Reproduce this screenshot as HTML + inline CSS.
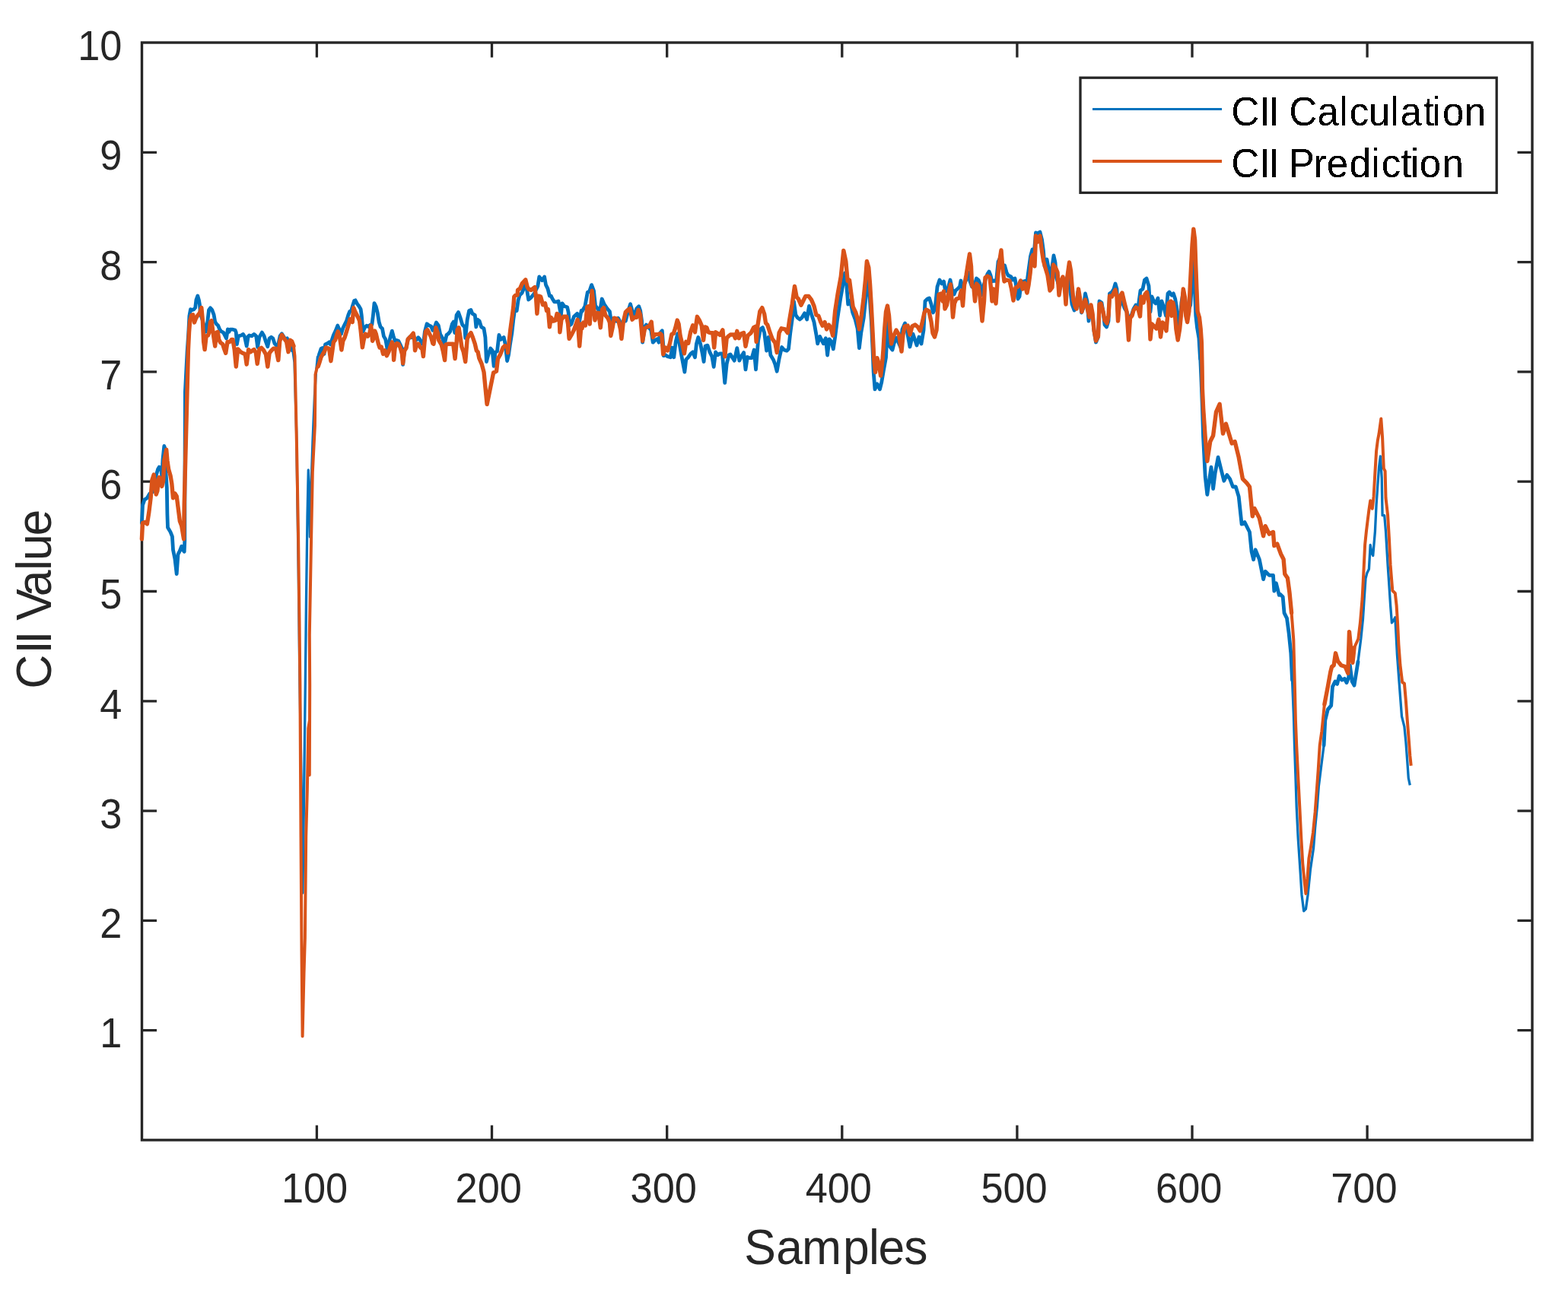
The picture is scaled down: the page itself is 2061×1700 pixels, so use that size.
<!DOCTYPE html>
<html><head><meta charset="utf-8"><title>CII Value vs Samples</title>
<style>
html,body{margin:0;padding:0;background:#fff;overflow:hidden;}
svg{display:block;}
.t{font-family:"Liberation Sans",Arial,sans-serif;font-size:52.3px;fill:#262626;}
.l{font-family:"Liberation Sans",Arial,sans-serif;font-size:62.4px;fill:#262626;}
.g{font-family:"Liberation Sans",Arial,sans-serif;font-size:51px;fill:#000;}
</style></head><body>
<svg width="2061" height="1700" viewBox="0 0 2061 1700">
<defs><filter id="crisp" x="0" y="0" width="1" height="1"><feComponentTransfer><feFuncA type="discrete" tableValues="0 1"/></feComponentTransfer></filter></defs>
<rect width="2061" height="1700" fill="#fff"/>
<rect x="186.5" y="56.0" width="1827.5" height="1442.9" fill="none" stroke="#262626" stroke-width="3.4"/>
<text transform="translate(160.4,1377.4) scale(1,1.06)" text-anchor="end" class="t">1</text>
<text transform="translate(160.4,1233.1) scale(1,1.06)" text-anchor="end" class="t">2</text>
<text transform="translate(160.4,1088.9) scale(1,1.06)" text-anchor="end" class="t">3</text>
<text transform="translate(160.4,944.6) scale(1,1.06)" text-anchor="end" class="t">4</text>
<text transform="translate(160.4,800.3) scale(1,1.06)" text-anchor="end" class="t">5</text>
<text transform="translate(160.4,656.0) scale(1,1.06)" text-anchor="end" class="t">6</text>
<text transform="translate(160.4,511.7) scale(1,1.06)" text-anchor="end" class="t">7</text>
<text transform="translate(160.4,367.5) scale(1,1.06)" text-anchor="end" class="t">8</text>
<text transform="translate(160.4,223.2) scale(1,1.06)" text-anchor="end" class="t">9</text>
<text transform="translate(160.4,78.9) scale(1,1.06)" text-anchor="end" class="t">10</text>
<text transform="translate(413.5,1580.8) scale(1,1.06)" text-anchor="middle" class="t">100</text>
<text transform="translate(642.2,1580.8) scale(1,1.06)" text-anchor="middle" class="t">200</text>
<text transform="translate(872.2,1580.8) scale(1,1.06)" text-anchor="middle" class="t">300</text>
<text transform="translate(1102.3,1580.8) scale(1,1.06)" text-anchor="middle" class="t">400</text>
<text transform="translate(1333.0,1580.8) scale(1,1.06)" text-anchor="middle" class="t">500</text>
<text transform="translate(1562.7,1580.8) scale(1,1.06)" text-anchor="middle" class="t">600</text>
<text transform="translate(1792.9,1580.8) scale(1,1.06)" text-anchor="middle" class="t">700</text>
<path d="M186.5,1354.6h19.5M2014.0,1354.6h-19.5M186.5,1210.3h19.5M2014.0,1210.3h-19.5M186.5,1066.1h19.5M2014.0,1066.1h-19.5M186.5,921.8h19.5M2014.0,921.8h-19.5M186.5,777.5h19.5M2014.0,777.5h-19.5M186.5,633.2h19.5M2014.0,633.2h-19.5M186.5,488.9h19.5M2014.0,488.9h-19.5M186.5,344.7h19.5M2014.0,344.7h-19.5M186.5,200.4h19.5M2014.0,200.4h-19.5M416.4,1498.9v-19.5M416.4,56.0v19.5M646.5,1498.9v-19.5M646.5,56.0v19.5M876.7,1498.9v-19.5M876.7,56.0v19.5M1106.8,1498.9v-19.5M1106.8,56.0v19.5M1336.9,1498.9v-19.5M1336.9,56.0v19.5M1567.0,1498.9v-19.5M1567.0,56.0v19.5M1797.1,1498.9v-19.5M1797.1,56.0v19.5" stroke="#262626" stroke-width="3.3" fill="none"/>
<text transform="translate(0,1662.4) scale(1,1.03)" x="978.3 1020.2 1054.0 1107.9 1141.9 1154.4 1188.3" y="0" class="l">Samples</text>
<text transform="translate(67.0,902.5) rotate(-90) scale(1,1.04)" x="-3.2 42.9 55.8 73.2 86.7 118.2 152.5 165.4 197.9" y="0" class="l">CII Value</text>
<path d="M186.4,687.6 L187.5,664.1 L189.9,657.1 L193.4,654.7 L196.9,648.8 L201.1,646.5 L202.8,635.9 L205.2,625.3 L207.5,617.1 L209.3,614.1 L211.6,615.9 L212.8,626.5 L214.0,604.1 L215.8,586.5 L217.5,591.2 L218.1,622.9 L219.3,640.6 L219.9,675.9 L220.5,693.5 L224.0,699.4 L226.4,705.3 L227.5,722.9 L229.9,734.7 L232.2,754.7 L234.0,728.8 L236.4,724.1 L238.7,718.2 L240.5,722.9 L242.2,725.3 L242.8,711.2 L242.9,652.4 L243.1,605.3 L243.4,515.3 L246.0,463.5 L247.8,437.1 L248.9,415.4 L250.5,406.8 L252.8,407.6 L254.8,406.8 L256.7,404.5 L257.9,394.4 L259.8,389.0 L261.4,394.4 L262.5,400.6 L263.3,412.3 L266.4,421.6 L270.3,436.3 L272.6,424.7 L274.5,407.6 L276.5,404.9 L278.8,407.6 L281.1,413.8 L282.7,423.1 L284.6,426.2 L286.6,427.8 L288.5,432.5 L290.5,435.6 L293.6,437.1 L295.9,441.8 L297.5,444.9 L299.4,432.8 L300.9,436.3 L302.5,433.2 L306.0,433.2 L309.1,434.0 L310.3,437.1 L311.4,452.6 L313.4,441.8 L316.9,441.0 L319.6,439.4 L321.5,442.5 L324.2,455.0 L326.2,442.5 L327.7,441.0 L330.8,441.8 L333.9,439.4 L336.7,441.8 L338.6,456.5 L340.9,443.3 L344.4,437.1 L347.1,441.8 L349.5,449.5 L351.8,455.7 L354.1,444.9 L356.5,443.3 L358.8,444.9 L361.1,451.9 L364.2,455.0 L365.8,452.6 L368.1,441.8 L370.4,438.7 L372.8,442.5 L375.1,446.4 L377.4,444.9 L379.0,449.5 L382.1,457.3 L383.6,460.4 L384.5,458.3 L387.0,476.5 L389.6,567.0 L392.2,748.0 L394.0,900.0 L396.5,1050.0 L397.9,1174.0 L399.5,1050.0 L401.3,900.0 L402.5,789.0 L404.0,680.0 L405.3,618.0 L406.5,650.0 L407.5,706.0 L409.0,640.0 L411.0,580.0 L413.5,520.0 L415.5,488.7 L417.4,469.3 L419.4,466.2 L422.1,458.4 L423.6,457.6 L426.0,465.4 L427.5,453.0 L430.6,451.4 L432.6,449.9 L434.5,453.0 L436.1,447.5 L438.4,440.6 L440.7,435.9 L443.8,428.1 L446.2,433.6 L448.5,439.0 L450.8,431.2 L453.1,426.6 L455.5,421.9 L457.8,414.2 L459.7,409.5 L461.7,408.7 L463.6,401.7 L465.6,395.5 L467.1,394.8 L469.5,399.4 L471.8,402.5 L474.1,406.4 L475.3,414.9 L476.4,428.1 L477.2,435.9 L479.5,430.5 L481.9,428.1 L484.6,429.7 L486.5,427.4 L488.9,426.6 L490.4,414.9 L492.0,398.6 L494.3,403.3 L496.2,411.1 L498.2,423.5 L500.1,429.7 L502.5,432.0 L504.4,442.1 L506.7,446.0 L508.3,454.5 L509.0,459.2 L511.4,449.9 L513.3,442.1 L515.3,435.1 L517.2,442.1 L519.1,448.3 L521.5,447.5 L523.8,448.3 L526.1,453.0 L528.5,458.4 L529.6,479.4 L531.6,459.2 L533.9,457.6 L536.2,446.0 L538.6,442.9 L540.9,443.7 L543.2,439.0 L545.2,447.5 L547.5,446.8 L549.8,443.7 L551.8,446.0 L554.1,451.4 L556.4,453.0 L558.4,435.9 L561.1,425.8 L564.2,428.1 L566.5,428.9 L568.8,434.3 L570.0,433.8 L573.4,424.0 L576.3,427.9 L578.7,439.6 L581.6,444.4 L584.1,453.2 L587.0,440.5 L589.4,438.6 L591.8,435.7 L594.3,426.0 L596.2,423.1 L597.7,437.6 L600.1,414.3 L602.5,410.5 L604.9,417.3 L607.8,427.0 L610.8,429.9 L611.7,444.4 L614.2,420.2 L616.6,408.5 L619.0,407.5 L620.9,412.4 L624.3,414.3 L625.8,429.9 L627.7,420.2 L630.2,422.1 L632.6,429.9 L636.0,431.8 L637.9,443.5 L639.4,475.5 L641.8,466.7 L644.7,458.0 L647.1,460.9 L649.1,481.3 L651.0,462.9 L653.5,461.9 L655.9,440.5 L658.3,446.4 L662.2,443.5 L664.1,452.2 L666.6,474.5 L668.5,466.7 L670.4,453.2 L672.9,437.6 L674.8,420.2 L676.7,406.6 L679.2,408.5 L681.1,394.9 L683.1,388.1 L686.0,385.2 L688.9,378.4 L690.8,371.6 L692.3,379.4 L694.7,394.0 L698.1,391.1 L702.0,386.2 L703.9,382.3 L706.8,376.5 L708.8,363.9 L712.6,368.7 L715.6,363.9 L717.5,374.6 L719.9,379.4 L722.4,389.1 L724.3,389.1 L726.2,393.0 L728.7,396.9 L731.1,396.9 L734.0,395.9 L735.9,406.6 L737.4,414.3 L738.9,398.8 L741.8,402.7 L745.6,403.7 L747.1,410.5 L748.6,427.9 L751.0,426.0 L754.4,416.3 L758.7,412.4 L761.7,422.1 L764.1,408.5 L765.0,409.5 L768.9,402.7 L772.3,384.3 L774.7,383.3 L777.6,374.6 L780.5,382.3 L782.5,401.7 L785.4,405.6 L788.3,410.5 L791.2,393.0 L794.1,399.8 L798.0,405.6 L801.4,409.5 L803.8,426.0 L806.7,419.2 L810.1,422.1 L812.5,418.2 L814.5,422.1 L816.4,428.9 L819.3,422.1 L822.3,422.1 L825.2,410.5 L828.6,399.8 L831.0,408.5 L833.9,414.3 L836.8,405.6 L839.7,402.7 L841.7,408.5 L843.6,422.1 L844.6,450.2 L847.5,429.9 L849.4,427.0 L852.3,429.9 L855.7,433.8 L858.2,450.2 L861.1,447.3 L864.5,445.4 L865.9,450.2 L867.9,437.6 L870.3,434.7 L871.7,453.2 L872.2,467.7 L874.7,466.7 L877.6,468.7 L881.4,469.7 L883.4,457.0 L885.8,469.7 L888.2,449.3 L890.7,438.6 L893.1,452.2 L896.0,468.7 L899.9,489.1 L901.8,472.6 L904.7,469.7 L908.1,464.8 L910.6,462.9 L913.5,469.7 L915.4,452.2 L917.8,443.5 L920.7,452.2 L923.2,464.8 L925.1,475.5 L927.1,455.1 L930.0,454.1 L932.9,462.9 L935.8,468.7 L938.2,482.3 L940.6,462.9 L943.6,466.7 L946.5,464.8 L949.4,464.8 L952.7,503.4 L955.2,478.4 L958.1,466.7 L960.0,465.9 L965.3,474.1 L968.8,457.6 L971.8,474.1 L974.7,468.2 L977.6,463.5 L980.0,485.9 L982.4,469.4 L985.3,470.6 L988.2,470.6 L991.2,460.0 L993.5,485.9 L996.5,448.2 L999.4,432.9 L1002.4,430.6 L1004.7,437.6 L1007.6,461.2 L1010.0,443.5 L1012.9,467.1 L1016.5,472.9 L1018.8,478.8 L1021.2,488.2 L1024.1,471.8 L1027.6,456.5 L1030.6,460.0 L1034.1,461.2 L1036.5,458.8 L1038.8,437.6 L1041.2,420.0 L1043.5,396.5 L1045.9,414.1 L1048.2,417.6 L1051.2,420.0 L1054.1,417.6 L1057.6,411.8 L1060.6,420.0 L1063.5,402.4 L1066.5,412.9 L1070.0,423.5 L1072.9,440.0 L1074.7,451.8 L1077.6,442.4 L1082.4,451.8 L1085.3,444.7 L1087.6,467.1 L1090.0,445.9 L1092.9,449.4 L1095.3,458.8 L1097.6,443.5 L1100.6,420.0 L1104.7,392.9 L1108.2,372.9 L1110.6,358.8 L1112.9,376.5 L1114.7,400.0 L1117.6,395.3 L1120.6,410.6 L1124.1,420.0 L1127.1,431.8 L1129.4,457.6 L1131.8,437.6 L1135.3,417.6 L1137.6,395.3 L1139.4,363.5 L1141.8,378.8 L1143.5,396.5 L1145.3,422.4 L1147.1,461.2 L1148.2,489.4 L1150.0,511.8 L1152.9,504.7 L1156.5,511.8 L1158.8,502.4 L1161.4,487.1 L1164.5,470.0 L1165.5,450.0 L1166.5,420.0 L1168.0,445.0 L1170.0,456.0 L1173.0,460.0 L1175.0,452.0 L1178.0,444.0 L1180.0,448.0 L1183.5,456.0 L1186.0,433.0 L1189.5,425.0 L1192.0,434.0 L1196.0,456.0 L1200.0,439.0 L1205.0,454.0 L1208.0,443.0 L1211.0,452.0 L1214.0,434.0 L1216.0,396.0 L1219.0,393.0 L1221.5,392.0 L1224.0,400.0 L1226.5,411.0 L1229.0,406.0 L1232.0,377.0 L1235.0,368.0 L1238.0,373.0 L1240.5,370.0 L1242.5,382.0 L1245.0,383.0 L1249.0,368.0 L1251.5,380.0 L1254.0,387.0 L1256.0,382.0 L1259.5,379.0 L1261.5,377.0 L1263.0,369.0 L1265.0,378.0 L1268.0,372.0 L1271.0,366.0 L1273.0,358.0 L1275.0,370.0 L1277.5,377.0 L1281.0,375.0 L1283.5,366.0 L1286.0,368.0 L1288.0,373.0 L1290.0,388.0 L1292.5,377.0 L1295.0,368.0 L1298.0,360.0 L1300.0,357.0 L1302.0,362.0 L1304.0,370.0 L1307.0,369.0 L1309.5,370.0 L1312.0,344.0 L1314.0,340.0 L1317.0,350.0 L1320.5,349.0 L1323.0,358.0 L1325.0,362.0 L1329.0,364.0 L1331.0,368.0 L1334.0,366.0 L1336.0,378.0 L1338.0,393.0 L1340.0,390.0 L1342.0,373.0 L1345.0,370.0 L1349.0,369.0 L1350.0,370.0 L1352.0,355.0 L1354.5,337.0 L1357.0,328.0 L1359.0,335.0 L1361.5,306.0 L1364.0,307.0 L1367.0,305.0 L1369.5,315.0 L1371.5,330.0 L1373.0,350.0 L1376.0,341.0 L1378.5,354.0 L1381.0,368.0 L1383.0,350.0 L1385.0,336.0 L1387.0,345.0 L1388.5,365.0 L1391.0,373.0 L1394.0,369.0 L1397.0,366.0 L1399.5,376.0 L1402.0,367.0 L1405.0,358.0 L1406.5,380.0 L1409.0,400.0 L1412.0,408.0 L1414.5,402.0 L1417.0,383.0 L1419.5,395.0 L1421.5,411.0 L1424.0,405.0 L1426.5,386.0 L1429.0,396.0 L1431.0,422.0 L1433.5,404.0 L1436.0,414.0 L1438.0,435.0 L1440.5,450.0 L1443.5,443.0 L1445.0,396.0 L1448.0,398.0 L1450.0,410.0 L1452.0,427.0 L1454.5,430.0 L1457.0,422.0 L1458.5,386.0 L1461.5,384.0 L1464.0,380.0 L1466.0,373.0 L1468.0,380.0 L1469.5,414.0 L1472.0,398.0 L1475.0,397.0 L1478.0,405.0 L1481.0,410.0 L1484.0,420.0 L1487.0,415.0 L1490.0,406.0 L1493.0,401.0 L1496.0,404.0 L1499.0,382.0 L1502.0,380.0 L1504.5,368.0 L1507.0,366.0 L1510.0,376.0 L1512.0,410.0 L1514.0,390.0 L1516.5,396.0 L1519.0,399.0 L1522.0,392.0 L1524.5,415.0 L1527.0,396.0 L1530.0,405.0 L1532.5,415.0 L1535.0,386.0 L1537.0,384.0 L1540.0,388.2 L1542.4,385.9 L1544.7,392.9 L1546.5,403.5 L1548.8,427.1 L1551.2,418.8 L1552.9,397.6 L1555.3,383.5 L1557.6,392.9 L1560.0,409.4 L1562.4,407.1 L1564.7,401.2 L1566.5,374.1 L1568.2,336.5 L1569.4,362.4 L1570.6,385.9 L1571.8,415.3 L1573.5,430.6 L1575.9,444.7 L1577.6,472.9 L1577.8,471.8 L1579.1,502.8 L1580.4,536.5 L1581.6,575.3 L1584.2,627.0 L1586.8,650.3 L1589.4,632.2 L1592.0,614.1 L1594.6,642.6 L1597.2,621.9 L1601.1,601.2 L1604.9,616.7 L1608.8,632.2 L1612.7,624.5 L1616.6,629.6 L1620.5,640.0 L1624.3,640.0 L1628.2,652.9 L1632.1,689.2 L1636.0,686.6 L1642.5,699.5 L1645.1,725.4 L1647.6,735.7 L1650.2,722.8 L1655.4,735.7 L1660.6,761.6 L1663.2,751.3 L1668.3,756.4 L1673.5,756.4 L1674.8,777.1 L1677.4,766.8 L1681.3,782.3 L1682.6,781.2 L1686.2,784.7 L1688.0,805.9 L1691.5,812.9 L1694.1,832.4 L1696.8,858.8 L1698.5,894.1 L1700.3,938.2 L1701.5,980.0 L1702.9,1020.6 L1704.2,1061.2 L1706.2,1101.8 L1708.9,1142.4 L1711.0,1176.2 L1713.7,1197.9 L1716.4,1195.2 L1719.1,1176.2 L1722.5,1142.4 L1726.5,1115.3 L1728.6,1088.3 L1731.3,1061.2 L1733.3,1034.1 L1736.7,1007.1 L1740.1,980.0 L1741.8,947.0 L1745.3,932.9 L1749.7,927.6 L1751.5,902.9 L1755.0,895.9 L1757.6,899.4 L1760.3,888.8 L1763.8,894.1 L1767.3,892.3 L1770.0,897.6 L1772.6,890.6 L1774.4,874.7 L1777.1,895.9 L1780.0,901.2 L1785.0,870.0 L1788.8,840.0 L1791.5,813.5 L1793.2,787.0 L1795.0,760.6 L1796.8,753.5 L1799.4,748.2 L1801.2,716.5 L1802.9,727.0 L1804.7,730.6 L1807.4,698.8 L1809.1,663.5 L1810.9,637.0 L1812.6,614.1 L1814.4,600.0 L1816.2,628.2 L1817.1,677.6 L1819.7,677.6 L1821.5,698.8 L1824.1,742.9 L1825.9,769.4 L1827.6,795.9 L1829.4,818.8 L1832.1,815.3 L1833.8,811.8 L1835.0,833.5 L1836.4,860.6 L1838.4,887.7 L1840.4,914.7 L1842.5,941.8 L1845.9,955.3 L1847.9,975.6 L1849.9,1002.7 L1851.3,1023.0 L1853.3,1032.4" fill="none" stroke="#0072BD" stroke-width="3.3" stroke-linejoin="round"/>
<path d="M186.4,687.6 L187.5,664.1 L189.9,657.1 L193.4,654.7 L196.9,648.8 L201.1,646.5 L202.8,635.9 L205.2,625.3 L207.5,617.1 L209.3,614.1 L211.6,615.9 L212.8,626.5 L214.0,604.1 L215.8,586.5 L217.5,591.2 L218.1,622.9 L219.3,640.6 L219.9,675.9 L220.5,693.5 L224.0,699.4 L226.4,705.3 L227.5,722.9 L229.9,734.7 L232.2,754.7 L234.0,728.8 L236.4,724.1 L238.7,718.2 L240.5,722.9 L242.2,725.3 L242.8,711.2 L242.9,652.4 L243.1,605.3 L243.4,515.3 L246.0,463.5 L247.8,437.1 L248.9,415.4 L250.5,406.8 L252.8,407.6 L254.8,406.8 L256.7,404.5 L257.9,394.4 L259.8,389.0 L261.4,394.4 L262.5,400.6 L263.3,412.3 L266.4,421.6 L270.3,436.3 L272.6,424.7 L274.5,407.6 L276.5,404.9 L278.8,407.6 L281.1,413.8 L282.7,423.1 L284.6,426.2 L286.6,427.8 L288.5,432.5 L290.5,435.6 L293.6,437.1 L295.9,441.8 L297.5,444.9 L299.4,432.8 L300.9,436.3 L302.5,433.2 L306.0,433.2 L309.1,434.0 L310.3,437.1 L311.4,452.6 L313.4,441.8 L316.9,441.0 L319.6,439.4 L321.5,442.5 L324.2,455.0 L326.2,442.5 L327.7,441.0 L330.8,441.8 L333.9,439.4 L336.7,441.8 L338.6,456.5 L340.9,443.3 L344.4,437.1 L347.1,441.8 L349.5,449.5 L351.8,455.7 L354.1,444.9 L356.5,443.3 L358.8,444.9 L361.1,451.9 L364.2,455.0 L365.8,452.6 L368.1,441.8 L370.4,438.7 L372.8,442.5 L375.1,446.4 L377.4,444.9 L379.0,449.5 L382.1,457.3 L383.6,460.4 L384.5,458.3M419.4,466.2 L422.1,458.4 L423.6,457.6 L426.0,465.4 L427.5,453.0 L430.6,451.4 L432.6,449.9 L434.5,453.0 L436.1,447.5 L438.4,440.6 L440.7,435.9 L443.8,428.1 L446.2,433.6 L448.5,439.0 L450.8,431.2 L453.1,426.6 L455.5,421.9 L457.8,414.2 L459.7,409.5 L461.7,408.7 L463.6,401.7 L465.6,395.5 L467.1,394.8 L469.5,399.4 L471.8,402.5 L474.1,406.4 L475.3,414.9 L476.4,428.1 L477.2,435.9 L479.5,430.5 L481.9,428.1 L484.6,429.7 L486.5,427.4 L488.9,426.6 L490.4,414.9 L492.0,398.6 L494.3,403.3 L496.2,411.1 L498.2,423.5 L500.1,429.7 L502.5,432.0 L504.4,442.1 L506.7,446.0 L508.3,454.5 L509.0,459.2 L511.4,449.9 L513.3,442.1 L515.3,435.1 L517.2,442.1 L519.1,448.3 L521.5,447.5 L523.8,448.3 L526.1,453.0 L528.5,458.4 L529.6,479.4 L531.6,459.2 L533.9,457.6 L536.2,446.0 L538.6,442.9 L540.9,443.7 L543.2,439.0 L545.2,447.5 L547.5,446.8 L549.8,443.7 L551.8,446.0 L554.1,451.4 L556.4,453.0 L558.4,435.9 L561.1,425.8 L564.2,428.1 L566.5,428.9 L568.8,434.3 L570.0,433.8 L573.4,424.0 L576.3,427.9 L578.7,439.6 L581.6,444.4 L584.1,453.2 L587.0,440.5 L589.4,438.6 L591.8,435.7 L594.3,426.0 L596.2,423.1 L597.7,437.6 L600.1,414.3 L602.5,410.5 L604.9,417.3 L607.8,427.0 L610.8,429.9 L611.7,444.4 L614.2,420.2 L616.6,408.5 L619.0,407.5 L620.9,412.4 L624.3,414.3 L625.8,429.9 L627.7,420.2 L630.2,422.1 L632.6,429.9 L636.0,431.8 L637.9,443.5 L639.4,475.5 L641.8,466.7 L644.7,458.0 L647.1,460.9 L649.1,481.3 L651.0,462.9 L653.5,461.9 L655.9,440.5 L658.3,446.4 L662.2,443.5 L664.1,452.2 L666.6,474.5 L668.5,466.7 L670.4,453.2 L672.9,437.6 L674.8,420.2 L676.7,406.6 L679.2,408.5 L681.1,394.9 L683.1,388.1 L686.0,385.2 L688.9,378.4 L690.8,371.6 L692.3,379.4 L694.7,394.0 L698.1,391.1 L702.0,386.2 L703.9,382.3 L706.8,376.5 L708.8,363.9 L712.6,368.7 L715.6,363.9 L717.5,374.6 L719.9,379.4 L722.4,389.1 L724.3,389.1 L726.2,393.0 L728.7,396.9 L731.1,396.9 L734.0,395.9 L735.9,406.6 L737.4,414.3 L738.9,398.8 L741.8,402.7 L745.6,403.7 L747.1,410.5 L748.6,427.9 L751.0,426.0 L754.4,416.3 L758.7,412.4 L761.7,422.1 L764.1,408.5 L765.0,409.5 L768.9,402.7 L772.3,384.3 L774.7,383.3 L777.6,374.6 L780.5,382.3 L782.5,401.7 L785.4,405.6 L788.3,410.5 L791.2,393.0 L794.1,399.8 L798.0,405.6 L801.4,409.5 L803.8,426.0 L806.7,419.2 L810.1,422.1 L812.5,418.2 L814.5,422.1 L816.4,428.9 L819.3,422.1 L822.3,422.1 L825.2,410.5 L828.6,399.8 L831.0,408.5 L833.9,414.3 L836.8,405.6 L839.7,402.7 L841.7,408.5 L843.6,422.1 L844.6,450.2 L847.5,429.9 L849.4,427.0 L852.3,429.9 L855.7,433.8 L858.2,450.2 L861.1,447.3 L864.5,445.4 L865.9,450.2 L867.9,437.6 L870.3,434.7 L871.7,453.2 L872.2,467.7 L874.7,466.7 L877.6,468.7 L881.4,469.7 L883.4,457.0 L885.8,469.7 L888.2,449.3 L890.7,438.6 L893.1,452.2 L896.0,468.7 L899.9,489.1 L901.8,472.6 L904.7,469.7 L908.1,464.8 L910.6,462.9 L913.5,469.7 L915.4,452.2 L917.8,443.5 L920.7,452.2 L923.2,464.8 L925.1,475.5 L927.1,455.1 L930.0,454.1 L932.9,462.9 L935.8,468.7 L938.2,482.3 L940.6,462.9 L943.6,466.7 L946.5,464.8 L949.4,464.8 L952.7,503.4 L955.2,478.4 L958.1,466.7 L960.0,465.9 L965.3,474.1 L968.8,457.6 L971.8,474.1 L974.7,468.2 L977.6,463.5 L980.0,485.9 L982.4,469.4 L985.3,470.6 L988.2,470.6 L991.2,460.0 L993.5,485.9 L996.5,448.2 L999.4,432.9 L1002.4,430.6 L1004.7,437.6 L1007.6,461.2 L1010.0,443.5 L1012.9,467.1 L1016.5,472.9 L1018.8,478.8 L1021.2,488.2 L1024.1,471.8 L1027.6,456.5 L1030.6,460.0 L1034.1,461.2 L1036.5,458.8 L1038.8,437.6 L1041.2,420.0 L1043.5,396.5 L1045.9,414.1 L1048.2,417.6 L1051.2,420.0 L1054.1,417.6 L1057.6,411.8 L1060.6,420.0 L1063.5,402.4 L1066.5,412.9 L1070.0,423.5 L1072.9,440.0 L1074.7,451.8 L1077.6,442.4 L1082.4,451.8 L1085.3,444.7 L1087.6,467.1 L1090.0,445.9 L1092.9,449.4 L1095.3,458.8 L1097.6,443.5 L1100.6,420.0 L1104.7,392.9 L1108.2,372.9 L1110.6,358.8 L1112.9,376.5 L1114.7,400.0 L1117.6,395.3 L1120.6,410.6 L1124.1,420.0 L1127.1,431.8 L1129.4,457.6 L1131.8,437.6 L1135.3,417.6 L1137.6,395.3 L1139.4,363.5 L1141.8,378.8 L1143.5,396.5 L1145.3,422.4 L1147.1,461.2 L1148.2,489.4 L1150.0,511.8 L1152.9,504.7 L1156.5,511.8 L1158.8,502.4 L1161.4,487.1 L1164.5,470.0 L1165.5,450.0 L1166.5,420.0 L1168.0,445.0 L1170.0,456.0 L1173.0,460.0 L1175.0,452.0 L1178.0,444.0 L1180.0,448.0 L1183.5,456.0 L1186.0,433.0 L1189.5,425.0 L1192.0,434.0 L1196.0,456.0 L1200.0,439.0 L1205.0,454.0 L1208.0,443.0 L1211.0,452.0 L1214.0,434.0 L1216.0,396.0 L1219.0,393.0 L1221.5,392.0 L1224.0,400.0 L1226.5,411.0 L1229.0,406.0 L1232.0,377.0 L1235.0,368.0 L1238.0,373.0 L1240.5,370.0 L1242.5,382.0 L1245.0,383.0 L1249.0,368.0 L1251.5,380.0 L1254.0,387.0 L1256.0,382.0 L1259.5,379.0 L1261.5,377.0 L1263.0,369.0 L1265.0,378.0 L1268.0,372.0 L1271.0,366.0 L1273.0,358.0 L1275.0,370.0 L1277.5,377.0 L1281.0,375.0 L1283.5,366.0 L1286.0,368.0 L1288.0,373.0 L1290.0,388.0 L1292.5,377.0 L1295.0,368.0 L1298.0,360.0 L1300.0,357.0 L1302.0,362.0 L1304.0,370.0 L1307.0,369.0 L1309.5,370.0 L1312.0,344.0 L1314.0,340.0 L1317.0,350.0 L1320.5,349.0 L1323.0,358.0 L1325.0,362.0 L1329.0,364.0 L1331.0,368.0 L1334.0,366.0 L1336.0,378.0 L1338.0,393.0 L1340.0,390.0 L1342.0,373.0 L1345.0,370.0 L1349.0,369.0 L1350.0,370.0 L1352.0,355.0 L1354.5,337.0 L1357.0,328.0 L1359.0,335.0 L1361.5,306.0 L1364.0,307.0 L1367.0,305.0 L1369.5,315.0 L1371.5,330.0 L1373.0,350.0 L1376.0,341.0 L1378.5,354.0 L1381.0,368.0 L1383.0,350.0 L1385.0,336.0 L1387.0,345.0 L1388.5,365.0 L1391.0,373.0 L1394.0,369.0 L1397.0,366.0 L1399.5,376.0 L1402.0,367.0 L1405.0,358.0 L1406.5,380.0 L1409.0,400.0 L1412.0,408.0 L1414.5,402.0 L1417.0,383.0 L1419.5,395.0 L1421.5,411.0 L1424.0,405.0 L1426.5,386.0 L1429.0,396.0 L1431.0,422.0 L1433.5,404.0 L1436.0,414.0 L1438.0,435.0 L1440.5,450.0 L1443.5,443.0 L1445.0,396.0 L1448.0,398.0 L1450.0,410.0 L1452.0,427.0 L1454.5,430.0 L1457.0,422.0 L1458.5,386.0 L1461.5,384.0 L1464.0,380.0 L1466.0,373.0 L1468.0,380.0 L1469.5,414.0 L1472.0,398.0 L1475.0,397.0 L1478.0,405.0 L1481.0,410.0 L1484.0,420.0 L1487.0,415.0 L1490.0,406.0 L1493.0,401.0 L1496.0,404.0 L1499.0,382.0 L1502.0,380.0 L1504.5,368.0 L1507.0,366.0 L1510.0,376.0 L1512.0,410.0 L1514.0,390.0 L1516.5,396.0 L1519.0,399.0 L1522.0,392.0 L1524.5,415.0 L1527.0,396.0 L1530.0,405.0 L1532.5,415.0 L1535.0,386.0 L1537.0,384.0 L1540.0,388.2 L1542.4,385.9 L1544.7,392.9 L1546.5,403.5 L1548.8,427.1 L1551.2,418.8 L1552.9,397.6 L1555.3,383.5 L1557.6,392.9 L1560.0,409.4 L1562.4,407.1 L1564.7,401.2 L1566.5,374.1 L1568.2,336.5 L1569.4,362.4 L1570.6,385.9 L1571.8,415.3 L1573.5,430.6 L1575.9,444.7 L1577.6,472.9 L1577.8,471.8 L1579.1,502.8 L1580.4,536.5 L1581.6,575.3 L1584.2,627.0 L1586.8,650.3 L1589.4,632.2 L1592.0,614.1 L1594.6,642.6 L1597.2,621.9 L1601.1,601.2 L1604.9,616.7 L1608.8,632.2 L1612.7,624.5 L1616.6,629.6 L1620.5,640.0 L1624.3,640.0 L1628.2,652.9 L1632.1,689.2 L1636.0,686.6 L1642.5,699.5 L1645.1,725.4 L1647.6,735.7 L1650.2,722.8 L1655.4,735.7 L1660.6,761.6 L1663.2,751.3 L1668.3,756.4 L1673.5,756.4 L1674.8,777.1 L1677.4,766.8 L1681.3,782.3 L1682.6,781.2 L1686.2,784.7 L1688.0,805.9 L1691.5,812.9 L1694.1,832.4 L1696.8,858.8 L1698.5,894.1M1740.1,980.0 L1741.8,947.0 L1745.3,932.9 L1749.7,927.6 L1751.5,902.9 L1755.0,895.9 L1757.6,899.4 L1760.3,888.8 L1763.8,894.1 L1767.3,892.3 L1770.0,897.6 L1772.6,890.6 L1774.4,874.7 L1777.1,895.9 L1780.0,901.2 L1785.0,870.0" fill="none" stroke="#0072BD" stroke-width="4.8" stroke-linejoin="round" stroke-linecap="round"/>
<path d="M186.4,708.8 L187.5,687.6 L190.5,686.5 L193.4,688.8 L195.8,673.5 L198.1,654.7 L199.9,631.2 L202.2,624.1 L204.0,640.6 L205.2,650.0 L206.9,645.3 L208.1,631.2 L209.3,627.6 L211.1,630.0 L212.8,639.4 L214.6,632.4 L215.8,605.3 L218.7,591.2 L219.9,605.3 L221.6,617.1 L224.0,625.3 L225.8,635.9 L227.5,654.7 L229.9,648.8 L232.2,652.4 L234.0,666.5 L236.4,685.3 L238.7,691.2 L241.6,708.8 L242.2,664.1 L242.8,640.6 L244.0,593.5 L246.0,515.3 L247.4,460.4 L248.5,437.1 L249.7,421.6 L251.6,414.6 L253.6,413.8 L255.5,423.9 L257.5,418.5 L259.4,415.4 L262.5,411.5 L264.8,404.5 L266.4,421.6 L267.6,448.8 L269.1,459.6 L271.1,441.8 L273.4,441.0 L274.9,437.1 L276.5,423.1 L278.0,421.6 L279.6,434.0 L281.1,444.9 L282.7,455.0 L284.6,437.1 L286.2,436.3 L287.7,446.4 L289.7,450.3 L292.8,452.6 L294.7,458.9 L296.7,464.3 L299.0,449.5 L302.1,449.5 L304.4,446.4 L306.0,446.4 L308.3,460.4 L310.3,482.1 L312.6,458.9 L316.1,462.7 L319.2,464.3 L322.3,465.8 L324.2,479.0 L326.6,459.6 L329.3,462.7 L333.9,459.6 L336.3,463.5 L338.2,478.3 L340.9,458.9 L343.6,457.3 L346.4,460.4 L349.5,465.8 L351.8,482.1 L354.1,464.3 L356.5,461.2 L359.6,458.1 L362.7,458.1 L365.8,473.6 L367.7,448.8 L370.4,440.2 L373.5,444.9 L376.6,449.5 L379.0,462.7 L381.3,447.2 L383.6,448.8 L386.0,455.0 L387.5,468.2 L390.2,595.9 L392.1,706.5 L393.5,817.0 L394.4,900.0 L395.5,1100.0 L396.5,1250.0 L397.6,1362.4 L399.5,1280.0 L400.9,1233.0 L402.2,1100.0 L403.8,1040.0 L405.3,957.6 L406.8,948.0 L406.8,1019.0 L407.2,900.0 L406.8,835.0 L409.0,713.0 L410.8,621.0 L413.9,560.0 L414.5,492.5 L416.7,483.3 L418.2,481.7 L419.8,477.0 L422.1,469.3 L424.4,465.4 L426.8,461.5 L428.3,456.9 L430.6,457.6 L432.6,458.4 L434.9,474.7 L436.8,461.5 L438.4,449.9 L440.7,446.8 L443.1,439.0 L444.2,435.9 L446.2,440.6 L448.9,460.0 L450.8,448.3 L453.1,443.7 L455.5,435.9 L457.8,428.1 L460.1,419.6 L462.1,421.9 L463.2,423.5 L464.8,404.8 L466.3,408.7 L468.7,413.4 L471.0,418.0 L472.6,421.9 L474.1,434.3 L476.4,456.9 L478.0,447.5 L480.3,439.0 L483.4,442.1 L485.8,438.2 L487.7,428.1 L489.6,448.3 L491.2,444.4 L492.7,435.1 L494.3,439.0 L495.9,446.0 L497.4,452.2 L499.0,456.9 L501.3,456.1 L503.6,465.4 L505.9,460.7 L508.3,467.7 L511.0,462.3 L512.9,456.1 L515.3,449.9 L516.8,453.8 L517.6,473.2 L519.1,457.6 L521.5,451.4 L523.8,452.2 L526.1,456.9 L528.5,465.4 L529.6,477.8 L531.6,461.5 L533.9,457.6 L536.2,446.0 L539.3,442.9 L543.2,438.2 L544.8,447.5 L545.5,460.7 L547.9,452.2 L550.2,452.2 L552.5,456.9 L554.9,458.4 L556.4,468.5 L558.0,449.9 L559.5,435.9 L561.8,433.6 L564.2,438.2 L566.5,442.9 L568.8,451.4 L570.0,452.2 L572.9,430.8 L575.3,437.6 L576.8,447.3 L580.2,453.2 L582.6,462.9 L584.6,473.5 L586.0,453.2 L589.4,452.2 L593.3,452.2 L595.7,452.2 L598.1,471.6 L600.1,450.2 L601.1,433.8 L603.0,430.8 L604.9,442.5 L606.9,456.1 L609.3,462.9 L611.7,475.5 L614.2,445.4 L616.6,440.5 L619.0,437.6 L621.4,443.5 L624.3,452.2 L626.3,460.9 L628.2,462.9 L629.7,470.6 L633.1,478.4 L636.0,489.1 L640.1,531.6 L648.6,490.0 L652.5,488.1 L654.4,471.6 L657.3,466.7 L661.2,457.0 L663.6,454.6 L667.0,457.0 L667.5,463.8 L669.0,450.2 L670.9,432.8 L672.9,418.2 L674.8,403.7 L675.8,390.1 L677.7,388.1 L680.1,388.1 L680.6,381.3 L683.5,379.4 L686.4,372.6 L690.8,367.8 L693.2,377.5 L695.2,380.4 L698.1,381.3 L702.9,377.5 L704.4,389.1 L705.9,412.4 L707.8,389.1 L710.7,390.1 L713.6,400.8 L716.5,398.8 L718.5,408.5 L720.4,406.6 L722.4,429.9 L724.3,417.3 L727.2,422.1 L730.1,421.1 L732.1,412.4 L735.0,414.3 L735.9,436.7 L737.9,420.2 L740.8,416.3 L744.7,416.3 L746.6,426.0 L748.1,445.4 L751.5,439.6 L754.4,433.8 L759.2,420.2 L761.7,455.1 L764.1,426.0 L765.0,431.8 L766.9,424.0 L769.4,427.9 L771.8,403.7 L773.7,402.7 L775.2,426.0 L777.1,398.8 L778.1,382.3 L780.0,398.8 L782.0,421.1 L783.9,411.4 L786.8,411.4 L789.3,430.8 L791.7,406.6 L793.6,404.6 L795.6,414.3 L799.0,418.2 L801.4,424.0 L802.8,441.5 L805.3,429.9 L807.2,418.2 L810.6,419.2 L813.0,422.1 L815.5,432.8 L816.9,445.4 L819.3,423.1 L822.3,410.5 L825.2,407.5 L828.1,405.6 L831.0,420.2 L833.9,417.3 L836.8,417.3 L839.2,407.5 L841.7,414.3 L842.6,426.0 L844.6,448.3 L847.5,431.8 L850.4,429.9 L853.3,428.9 L856.2,423.1 L858.2,443.5 L861.1,439.6 L865.0,439.6 L867.9,438.6 L869.8,440.5 L871.7,465.8 L874.7,457.0 L877.6,460.9 L880.5,451.2 L882.9,439.6 L885.3,438.6 L887.8,430.8 L890.2,421.1 L892.1,426.0 L894.1,441.5 L897.0,453.2 L899.4,464.8 L901.8,449.3 L904.7,451.2 L907.6,436.7 L910.6,427.9 L913.5,436.7 L916.4,416.3 L919.3,421.1 L922.2,427.9 L924.6,447.3 L926.6,429.9 L929.0,430.8 L930.9,436.7 L933.9,437.6 L936.8,437.6 L938.7,457.0 L940.6,436.7 L943.6,438.6 L946.5,440.5 L949.9,433.8 L952.8,468.7 L955.2,444.4 L958.1,441.5 L960.0,440.0 L964.7,440.0 L966.5,444.7 L968.8,435.3 L971.2,444.7 L974.1,438.8 L977.6,437.6 L980.0,455.3 L982.9,441.2 L987.1,437.6 L990.6,430.6 L992.9,429.4 L994.1,449.4 L995.9,428.2 L998.8,409.4 L1001.8,404.7 L1004.7,412.9 L1006.5,424.7 L1008.8,427.1 L1011.8,436.5 L1015.3,445.9 L1018.8,450.6 L1021.2,463.5 L1024.1,437.6 L1027.1,431.8 L1031.8,432.9 L1035.3,437.6 L1037.6,421.2 L1041.2,400.0 L1044.5,376.5 L1047.1,390.6 L1049.4,392.9 L1052.9,401.2 L1055.9,395.3 L1058.8,389.4 L1062.9,389.4 L1066.5,394.1 L1070.0,402.4 L1072.9,414.1 L1075.9,415.3 L1078.8,423.5 L1081.2,428.2 L1084.1,423.5 L1086.5,432.9 L1089.4,427.1 L1091.8,430.6 L1094.7,441.2 L1097.6,409.4 L1101.2,385.9 L1105.3,363.5 L1108.8,329.4 L1111.8,343.5 L1114.1,369.4 L1116.5,368.2 L1118.8,385.9 L1121.2,403.5 L1124.7,410.6 L1127.1,418.8 L1129.4,432.9 L1132.4,414.1 L1135.3,390.6 L1137.6,367.1 L1139.4,343.5 L1141.8,351.8 L1143.5,372.9 L1145.3,402.4 L1147.1,437.6 L1148.8,472.9 L1150.6,489.4 L1152.9,470.6 L1155.3,478.8 L1157.6,494.1 L1160.0,472.9 L1161.0,460.0 L1162.5,435.0 L1164.5,410.0 L1166.5,402.0 L1168.5,415.0 L1170.0,435.0 L1171.5,452.0 L1174.0,443.0 L1178.0,434.0 L1181.5,440.0 L1185.0,462.0 L1187.0,440.0 L1189.0,429.0 L1193.0,428.0 L1196.0,440.0 L1199.0,429.0 L1203.0,427.0 L1206.5,430.0 L1209.5,435.0 L1212.0,425.0 L1215.0,411.0 L1217.5,407.0 L1221.0,409.0 L1224.0,423.0 L1226.0,438.0 L1228.5,443.0 L1231.0,434.0 L1232.5,410.0 L1234.0,387.0 L1237.0,386.0 L1239.0,396.0 L1240.5,383.0 L1242.0,406.0 L1244.5,401.0 L1247.0,385.0 L1249.5,374.0 L1251.0,394.0 L1252.5,417.0 L1254.5,399.0 L1257.0,393.0 L1261.0,392.0 L1263.5,382.0 L1265.5,402.0 L1267.5,375.0 L1270.0,362.0 L1272.5,346.0 L1274.5,334.0 L1276.5,350.0 L1277.5,375.0 L1280.0,379.0 L1281.5,396.0 L1283.5,373.0 L1286.0,376.0 L1288.0,390.0 L1291.0,422.0 L1293.5,396.0 L1295.0,365.0 L1298.0,363.0 L1301.0,365.0 L1303.0,383.0 L1304.0,396.0 L1306.0,380.0 L1309.0,399.0 L1311.0,372.0 L1313.0,348.0 L1316.0,329.0 L1318.0,354.0 L1320.0,370.0 L1323.0,368.0 L1327.0,369.0 L1329.5,380.0 L1332.0,395.0 L1335.0,378.0 L1338.0,377.0 L1341.5,369.0 L1344.0,380.0 L1347.0,372.0 L1349.5,384.0 L1350.0,385.0 L1352.0,375.0 L1354.0,360.0 L1356.0,339.0 L1358.0,335.0 L1360.0,350.0 L1361.5,310.0 L1364.0,318.0 L1367.0,310.0 L1369.5,330.0 L1371.5,343.0 L1374.0,352.0 L1377.0,362.0 L1380.0,382.0 L1383.0,378.0 L1384.5,348.0 L1387.5,352.0 L1390.0,358.0 L1392.0,388.0 L1395.0,369.0 L1397.0,364.0 L1399.0,373.0 L1401.0,400.0 L1403.0,363.0 L1405.5,345.0 L1407.5,356.0 L1409.0,375.0 L1411.0,395.0 L1413.5,404.0 L1415.0,406.0 L1417.5,380.0 L1420.0,395.0 L1422.0,410.0 L1424.0,401.0 L1426.5,394.0 L1429.0,405.0 L1432.0,417.0 L1434.0,401.0 L1436.0,412.0 L1438.0,434.0 L1440.5,448.0 L1443.5,442.0 L1445.0,400.0 L1447.0,399.0 L1450.0,410.0 L1452.0,421.0 L1455.0,425.0 L1457.0,415.0 L1458.5,389.0 L1461.5,390.0 L1464.0,385.0 L1466.0,381.0 L1468.0,390.0 L1469.5,422.0 L1472.0,390.0 L1475.0,385.0 L1478.0,398.0 L1481.0,410.0 L1483.5,447.0 L1485.5,418.0 L1488.0,415.0 L1490.0,408.0 L1493.0,404.0 L1496.0,406.0 L1498.5,416.0 L1500.0,390.0 L1503.0,398.0 L1505.0,387.0 L1507.5,384.0 L1510.0,398.0 L1512.0,446.0 L1514.0,426.0 L1517.0,429.0 L1520.0,432.0 L1523.0,420.0 L1525.5,443.0 L1528.0,424.0 L1530.0,426.0 L1533.0,435.0 L1536.0,399.0 L1539.0,396.0 L1540.0,415.3 L1541.8,397.6 L1544.1,409.4 L1545.9,432.9 L1548.2,447.1 L1550.6,432.9 L1552.9,409.4 L1555.3,380.0 L1557.6,391.8 L1558.8,415.3 L1560.6,423.5 L1562.9,409.4 L1564.1,380.0 L1565.3,356.5 L1567.1,321.2 L1568.8,301.2 L1570.6,315.3 L1571.8,350.6 L1572.9,380.0 L1574.1,409.4 L1576.5,417.6 L1578.2,432.9 L1579.4,450.6 L1580.0,480.0 L1580.4,510.6 L1581.6,536.5 L1584.2,575.3 L1586.8,606.3 L1590.7,580.5 L1594.6,572.7 L1598.5,541.6 L1603.1,531.3 L1607.5,570.1 L1611.4,557.2 L1615.3,570.1 L1619.2,583.0 L1623.1,580.5 L1628.2,601.2 L1633.4,629.6 L1638.6,634.8 L1642.5,640.0 L1646.3,678.8 L1648.9,668.4 L1655.4,681.4 L1660.6,704.7 L1663.2,691.7 L1668.3,702.1 L1673.5,699.5 L1674.8,717.6 L1678.7,715.0 L1683.5,728.2 L1687.1,735.3 L1688.8,754.7 L1692.4,760.0 L1695.0,779.4 L1697.6,805.9 L1700.3,841.2 L1701.2,876.5 L1702.1,911.8 L1702.9,947.0 L1704.2,980.0 L1706.2,1020.6 L1708.3,1061.2 L1710.3,1101.8 L1712.3,1135.6 L1715.0,1162.7 L1716.4,1174.9 L1718.4,1155.9 L1720.4,1128.8 L1723.2,1112.6 L1725.9,1095.0 L1728.6,1068.0 L1730.6,1040.9 L1732.6,1013.8 L1734.7,980.0 L1735.6,973.5 L1737.4,961.2 L1740.9,925.9 L1745.3,902.9 L1748.8,883.5 L1750.6,876.5 L1753.2,874.7 L1755.5,858.8 L1758.5,869.4 L1762.9,874.7 L1768.2,876.5 L1771.8,885.3 L1773.5,830.6 L1776.2,858.8 L1777.9,871.2 L1780.0,851.8 L1785.3,840.0 L1787.9,818.8 L1790.6,787.0 L1792.4,751.8 L1794.1,716.5 L1795.9,698.8 L1797.6,684.7 L1799.4,670.6 L1801.2,658.2 L1803.8,668.8 L1805.6,652.9 L1807.4,621.2 L1809.1,592.9 L1810.9,578.8 L1812.6,570.0 L1815.3,550.6 L1817.1,575.3 L1818.8,615.9 L1820.6,619.4 L1821.5,654.7 L1824.1,677.6 L1825.9,707.6 L1827.6,742.9 L1830.3,776.5 L1833.8,780.0 L1835.6,795.9 L1837.1,820.0 L1838.4,847.1 L1840.4,874.1 L1843.2,897.1 L1845.9,898.5 L1847.9,921.5 L1849.9,948.6 L1852.0,975.6 L1853.3,993.2 L1854.7,1006.7" fill="none" stroke="#D95319" stroke-width="4.0" stroke-linejoin="round"/>
<path d="M186.4,708.8 L187.5,687.6 L190.5,686.5 L193.4,688.8 L195.8,673.5 L198.1,654.7 L199.9,631.2 L202.2,624.1 L204.0,640.6 L205.2,650.0 L206.9,645.3 L208.1,631.2 L209.3,627.6 L211.1,630.0 L212.8,639.4 L214.6,632.4 L215.8,605.3 L218.7,591.2 L219.9,605.3 L221.6,617.1 L224.0,625.3 L225.8,635.9 L227.5,654.7 L229.9,648.8 L232.2,652.4 L234.0,666.5 L236.4,685.3 L238.7,691.2 L241.6,708.8 L242.2,664.1 L242.8,640.6 L244.0,593.5 L246.0,515.3 L247.4,460.4 L248.5,437.1 L249.7,421.6 L251.6,414.6 L253.6,413.8 L255.5,423.9 L257.5,418.5 L259.4,415.4 L262.5,411.5 L264.8,404.5 L266.4,421.6 L267.6,448.8 L269.1,459.6 L271.1,441.8 L273.4,441.0 L274.9,437.1 L276.5,423.1 L278.0,421.6 L279.6,434.0 L281.1,444.9 L282.7,455.0 L284.6,437.1 L286.2,436.3 L287.7,446.4 L289.7,450.3 L292.8,452.6 L294.7,458.9 L296.7,464.3 L299.0,449.5 L302.1,449.5 L304.4,446.4 L306.0,446.4 L308.3,460.4 L310.3,482.1 L312.6,458.9 L316.1,462.7 L319.2,464.3 L322.3,465.8 L324.2,479.0 L326.6,459.6 L329.3,462.7 L333.9,459.6 L336.3,463.5 L338.2,478.3 L340.9,458.9 L343.6,457.3 L346.4,460.4 L349.5,465.8 L351.8,482.1 L354.1,464.3 L356.5,461.2 L359.6,458.1 L362.7,458.1 L365.8,473.6 L367.7,448.8 L370.4,440.2 L373.5,444.9 L376.6,449.5 L379.0,462.7 L381.3,447.2 L383.6,448.8 L386.0,455.0M418.2,481.7 L419.8,477.0 L422.1,469.3 L424.4,465.4 L426.8,461.5 L428.3,456.9 L430.6,457.6 L432.6,458.4 L434.9,474.7 L436.8,461.5 L438.4,449.9 L440.7,446.8 L443.1,439.0 L444.2,435.9 L446.2,440.6 L448.9,460.0 L450.8,448.3 L453.1,443.7 L455.5,435.9 L457.8,428.1 L460.1,419.6 L462.1,421.9 L463.2,423.5 L464.8,404.8 L466.3,408.7 L468.7,413.4 L471.0,418.0 L472.6,421.9 L474.1,434.3 L476.4,456.9 L478.0,447.5 L480.3,439.0 L483.4,442.1 L485.8,438.2 L487.7,428.1 L489.6,448.3 L491.2,444.4 L492.7,435.1 L494.3,439.0 L495.9,446.0 L497.4,452.2 L499.0,456.9 L501.3,456.1 L503.6,465.4 L505.9,460.7 L508.3,467.7 L511.0,462.3 L512.9,456.1 L515.3,449.9 L516.8,453.8 L517.6,473.2 L519.1,457.6 L521.5,451.4 L523.8,452.2 L526.1,456.9 L528.5,465.4 L529.6,477.8 L531.6,461.5 L533.9,457.6 L536.2,446.0 L539.3,442.9 L543.2,438.2 L544.8,447.5 L545.5,460.7 L547.9,452.2 L550.2,452.2 L552.5,456.9 L554.9,458.4 L556.4,468.5 L558.0,449.9 L559.5,435.9 L561.8,433.6 L564.2,438.2 L566.5,442.9 L568.8,451.4 L570.0,452.2 L572.9,430.8 L575.3,437.6 L576.8,447.3 L580.2,453.2 L582.6,462.9 L584.6,473.5 L586.0,453.2 L589.4,452.2 L593.3,452.2 L595.7,452.2 L598.1,471.6 L600.1,450.2 L601.1,433.8 L603.0,430.8 L604.9,442.5 L606.9,456.1 L609.3,462.9 L611.7,475.5 L614.2,445.4 L616.6,440.5 L619.0,437.6 L621.4,443.5 L624.3,452.2 L626.3,460.9 L628.2,462.9 L629.7,470.6 L633.1,478.4 L636.0,489.1 L640.1,531.6 L648.6,490.0 L652.5,488.1 L654.4,471.6 L657.3,466.7 L661.2,457.0 L663.6,454.6 L667.0,457.0 L667.5,463.8 L669.0,450.2 L670.9,432.8 L672.9,418.2 L674.8,403.7 L675.8,390.1 L677.7,388.1 L680.1,388.1 L680.6,381.3 L683.5,379.4 L686.4,372.6 L690.8,367.8 L693.2,377.5 L695.2,380.4 L698.1,381.3 L702.9,377.5 L704.4,389.1 L705.9,412.4 L707.8,389.1 L710.7,390.1 L713.6,400.8 L716.5,398.8 L718.5,408.5 L720.4,406.6 L722.4,429.9 L724.3,417.3 L727.2,422.1 L730.1,421.1 L732.1,412.4 L735.0,414.3 L735.9,436.7 L737.9,420.2 L740.8,416.3 L744.7,416.3 L746.6,426.0 L748.1,445.4 L751.5,439.6 L754.4,433.8 L759.2,420.2 L761.7,455.1 L764.1,426.0 L765.0,431.8 L766.9,424.0 L769.4,427.9 L771.8,403.7 L773.7,402.7 L775.2,426.0 L777.1,398.8 L778.1,382.3 L780.0,398.8 L782.0,421.1 L783.9,411.4 L786.8,411.4 L789.3,430.8 L791.7,406.6 L793.6,404.6 L795.6,414.3 L799.0,418.2 L801.4,424.0 L802.8,441.5 L805.3,429.9 L807.2,418.2 L810.6,419.2 L813.0,422.1 L815.5,432.8 L816.9,445.4 L819.3,423.1 L822.3,410.5 L825.2,407.5 L828.1,405.6 L831.0,420.2 L833.9,417.3 L836.8,417.3 L839.2,407.5 L841.7,414.3 L842.6,426.0 L844.6,448.3 L847.5,431.8 L850.4,429.9 L853.3,428.9 L856.2,423.1 L858.2,443.5 L861.1,439.6 L865.0,439.6 L867.9,438.6 L869.8,440.5 L871.7,465.8 L874.7,457.0 L877.6,460.9 L880.5,451.2 L882.9,439.6 L885.3,438.6 L887.8,430.8 L890.2,421.1 L892.1,426.0 L894.1,441.5 L897.0,453.2 L899.4,464.8 L901.8,449.3 L904.7,451.2 L907.6,436.7 L910.6,427.9 L913.5,436.7 L916.4,416.3 L919.3,421.1 L922.2,427.9 L924.6,447.3 L926.6,429.9 L929.0,430.8 L930.9,436.7 L933.9,437.6 L936.8,437.6 L938.7,457.0 L940.6,436.7 L943.6,438.6 L946.5,440.5 L949.9,433.8 L952.8,468.7 L955.2,444.4 L958.1,441.5 L960.0,440.0 L964.7,440.0 L966.5,444.7 L968.8,435.3 L971.2,444.7 L974.1,438.8 L977.6,437.6 L980.0,455.3 L982.9,441.2 L987.1,437.6 L990.6,430.6 L992.9,429.4 L994.1,449.4 L995.9,428.2 L998.8,409.4 L1001.8,404.7 L1004.7,412.9 L1006.5,424.7 L1008.8,427.1 L1011.8,436.5 L1015.3,445.9 L1018.8,450.6 L1021.2,463.5 L1024.1,437.6 L1027.1,431.8 L1031.8,432.9 L1035.3,437.6 L1037.6,421.2 L1041.2,400.0 L1044.5,376.5 L1047.1,390.6 L1049.4,392.9 L1052.9,401.2 L1055.9,395.3 L1058.8,389.4 L1062.9,389.4 L1066.5,394.1 L1070.0,402.4 L1072.9,414.1 L1075.9,415.3 L1078.8,423.5 L1081.2,428.2 L1084.1,423.5 L1086.5,432.9 L1089.4,427.1 L1091.8,430.6 L1094.7,441.2 L1097.6,409.4 L1101.2,385.9 L1105.3,363.5 L1108.8,329.4 L1111.8,343.5 L1114.1,369.4 L1116.5,368.2 L1118.8,385.9 L1121.2,403.5 L1124.7,410.6 L1127.1,418.8 L1129.4,432.9 L1132.4,414.1 L1135.3,390.6 L1137.6,367.1 L1139.4,343.5 L1141.8,351.8 L1143.5,372.9 L1145.3,402.4 L1147.1,437.6 L1148.8,472.9 L1150.6,489.4 L1152.9,470.6 L1155.3,478.8 L1157.6,494.1 L1160.0,472.9 L1161.0,460.0 L1162.5,435.0 L1164.5,410.0 L1166.5,402.0 L1168.5,415.0 L1170.0,435.0 L1171.5,452.0 L1174.0,443.0 L1178.0,434.0 L1181.5,440.0 L1185.0,462.0 L1187.0,440.0 L1189.0,429.0 L1193.0,428.0 L1196.0,440.0 L1199.0,429.0 L1203.0,427.0 L1206.5,430.0 L1209.5,435.0 L1212.0,425.0 L1215.0,411.0 L1217.5,407.0 L1221.0,409.0 L1224.0,423.0 L1226.0,438.0 L1228.5,443.0 L1231.0,434.0 L1232.5,410.0 L1234.0,387.0 L1237.0,386.0 L1239.0,396.0 L1240.5,383.0 L1242.0,406.0 L1244.5,401.0 L1247.0,385.0 L1249.5,374.0 L1251.0,394.0 L1252.5,417.0 L1254.5,399.0 L1257.0,393.0 L1261.0,392.0 L1263.5,382.0 L1265.5,402.0 L1267.5,375.0 L1270.0,362.0 L1272.5,346.0 L1274.5,334.0 L1276.5,350.0 L1277.5,375.0 L1280.0,379.0 L1281.5,396.0 L1283.5,373.0 L1286.0,376.0 L1288.0,390.0 L1291.0,422.0 L1293.5,396.0 L1295.0,365.0 L1298.0,363.0 L1301.0,365.0 L1303.0,383.0 L1304.0,396.0 L1306.0,380.0 L1309.0,399.0 L1311.0,372.0 L1313.0,348.0 L1316.0,329.0 L1318.0,354.0 L1320.0,370.0 L1323.0,368.0 L1327.0,369.0 L1329.5,380.0 L1332.0,395.0 L1335.0,378.0 L1338.0,377.0 L1341.5,369.0 L1344.0,380.0 L1347.0,372.0 L1349.5,384.0 L1350.0,385.0 L1352.0,375.0 L1354.0,360.0 L1356.0,339.0 L1358.0,335.0 L1360.0,350.0 L1361.5,310.0 L1364.0,318.0 L1367.0,310.0 L1369.5,330.0 L1371.5,343.0 L1374.0,352.0 L1377.0,362.0 L1380.0,382.0 L1383.0,378.0 L1384.5,348.0 L1387.5,352.0 L1390.0,358.0 L1392.0,388.0 L1395.0,369.0 L1397.0,364.0 L1399.0,373.0 L1401.0,400.0 L1403.0,363.0 L1405.5,345.0 L1407.5,356.0 L1409.0,375.0 L1411.0,395.0 L1413.5,404.0 L1415.0,406.0 L1417.5,380.0 L1420.0,395.0 L1422.0,410.0 L1424.0,401.0 L1426.5,394.0 L1429.0,405.0 L1432.0,417.0 L1434.0,401.0 L1436.0,412.0 L1438.0,434.0 L1440.5,448.0 L1443.5,442.0 L1445.0,400.0 L1447.0,399.0 L1450.0,410.0 L1452.0,421.0 L1455.0,425.0 L1457.0,415.0 L1458.5,389.0 L1461.5,390.0 L1464.0,385.0 L1466.0,381.0 L1468.0,390.0 L1469.5,422.0 L1472.0,390.0 L1475.0,385.0 L1478.0,398.0 L1481.0,410.0 L1483.5,447.0 L1485.5,418.0 L1488.0,415.0 L1490.0,408.0 L1493.0,404.0 L1496.0,406.0 L1498.5,416.0 L1500.0,390.0 L1503.0,398.0 L1505.0,387.0 L1507.5,384.0 L1510.0,398.0 L1512.0,446.0 L1514.0,426.0 L1517.0,429.0 L1520.0,432.0 L1523.0,420.0 L1525.5,443.0 L1528.0,424.0 L1530.0,426.0 L1533.0,435.0 L1536.0,399.0 L1539.0,396.0 L1540.0,415.3 L1541.8,397.6 L1544.1,409.4 L1545.9,432.9 L1548.2,447.1 L1550.6,432.9 L1552.9,409.4 L1555.3,380.0 L1557.6,391.8 L1558.8,415.3 L1560.6,423.5 L1562.9,409.4 L1564.1,380.0 L1565.3,356.5 L1567.1,321.2 L1568.8,301.2 L1570.6,315.3 L1571.8,350.6 L1572.9,380.0 L1574.1,409.4 L1576.5,417.6 L1578.2,432.9 L1579.4,450.6 L1580.0,480.0 L1580.4,510.6 L1581.6,536.5 L1584.2,575.3 L1586.8,606.3 L1590.7,580.5 L1594.6,572.7 L1598.5,541.6 L1603.1,531.3 L1607.5,570.1 L1611.4,557.2 L1615.3,570.1 L1619.2,583.0 L1623.1,580.5 L1628.2,601.2 L1633.4,629.6 L1638.6,634.8 L1642.5,640.0 L1646.3,678.8 L1648.9,668.4 L1655.4,681.4 L1660.6,704.7 L1663.2,691.7 L1668.3,702.1 L1673.5,699.5 L1674.8,717.6 L1678.7,715.0 L1683.5,728.2 L1687.1,735.3 L1688.8,754.7 L1692.4,760.0 L1695.0,779.4 L1697.6,805.9M1740.9,925.9 L1745.3,902.9 L1748.8,883.5 L1750.6,876.5 L1753.2,874.7 L1755.5,858.8 L1758.5,869.4 L1762.9,874.7 L1768.2,876.5 L1771.8,885.3 L1773.5,830.6 L1776.2,858.8 L1777.9,871.2 L1780.0,851.8" fill="none" stroke="#D95319" stroke-width="5.4" stroke-linejoin="round" stroke-linecap="round"/>
<rect x="1420.0" y="102.2" width="547.2" height="151.2" fill="#fff" stroke="#262626" stroke-width="3.3"/>
<line x1="1436" y1="143.5" x2="1606" y2="143.5" stroke="#0072BD" stroke-width="3"/>
<line x1="1436" y1="212.0" x2="1606" y2="212.0" stroke="#D95319" stroke-width="4"/>
<g filter="url(#crisp)"><text transform="translate(0,165.0) scale(1,1.054)" x="1618.2 1655.3 1667.2 1681.4 1694.3 1731.6 1760.5 1773.8 1798.8 1827.4 1840.6 1871.1 1882.6 1895.9 1924.7" y="0" class="g">CII Calculation</text>
<text transform="translate(0,232.8) scale(1,1.054)" x="1618.2 1655.3 1667.2 1681.4 1693.7 1726.5 1743.7 1773.8 1802.5 1815.7 1841.2 1853.7 1865.8 1895.6" y="0" class="g">CII Prediction</text></g>
</svg>
</body></html>
